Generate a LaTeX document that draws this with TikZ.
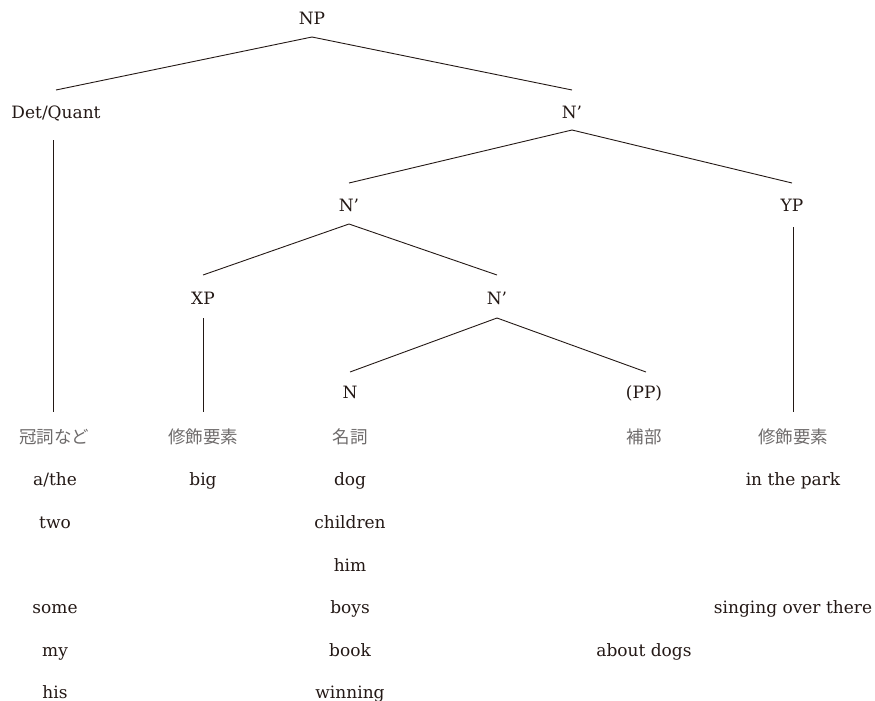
\documentclass[tikz,border=0pt]{standalone}
\usepackage{fontspec}
\setmainfont{DejaVu Serif}
\newfontfamily\jp{Noto Sans CJK JP}
\definecolor{ink}{HTML}{231815}
\definecolor{jpgray}{HTML}{6E6B6B}
\begin{document}
\begin{tikzpicture}[x=1pt,y=-1pt,
  lab/.style={anchor=base,inner sep=0pt,text=ink,font=\fontsize{17}{20}\selectfont},
  jlab/.style={anchor=base,inner sep=0pt,text=jpgray,font=\jp\fontsize{17.5}{20}\selectfont},
  edge/.style={draw=ink,line width=0.9pt}]
\useasboundingbox (0,0) rectangle (875,701);
% tree labels
\node[lab] (np) at (312,25) {NP};
\node[lab] (det) at (56,118) {Det/Quant};
\node[lab] (n1) at (572,118) {N'};
\node[lab] (n2) at (349,211) {N'};
\node[lab] (yp) at (792,211) {YP};
\node[lab] (xp) at (203,304) {XP};
\node[lab] (n3) at (497,304) {N'};
\node[lab] (n) at (350,398) {N};
\node[lab] (pp) at (644,398) {(PP)};
% Japanese row
\node[jlab] (j1) at (54,443) {冠詞など};
\node[jlab] (j2) at (203,443) {修飾要素};
\node[jlab] (j3) at (350,443) {名詞};
\node[jlab] (j4) at (644,443) {補部};
\node[jlab] (j5) at (793,443) {修飾要素};
% examples
\node[lab] (e1) at (55,485) {a/the};
\node[lab] (e2) at (55,528) {two};
\node[lab] (e3) at (55,613) {some};
\node[lab] (e4) at (55,656) {my};
\node[lab] (e5) at (55,698) {his};
\node[lab] (x1) at (203,485) {big};
\node[lab] (m1) at (350,485) {dog};
\node[lab] (m2) at (350,528) {children};
\node[lab] (m3) at (350,571) {him};
\node[lab] (m4) at (350,613) {boys};
\node[lab] (m5) at (350,656) {book};
\node[lab] (m6) at (350,698) {winning};
\node[lab] (p1) at (644,656) {about dogs};
\node[lab] (y1) at (793,485) {in the park};
\node[lab] (y2) at (793,613) {singing over there};
% branches
\draw[edge] ([yshift=-12pt]np.base) -- ([yshift=28pt]det.base);
\draw[edge] ([yshift=-12pt]np.base) -- ([yshift=28pt]n1.base);
\draw[edge] ([yshift=-12pt]n1.base) -- ([yshift=28pt]n2.base);
\draw[edge] ([yshift=-12pt]n1.base) -- ([yshift=28pt]yp.base);
\draw[edge] ([yshift=-13pt]n2.base) -- ([yshift=29pt]xp.base);
\draw[edge] ([yshift=-13pt]n2.base) -- ([yshift=29pt]n3.base);
\draw[edge] ([yshift=-14pt]n3.base) -- ([yshift=26pt]n.base);
\draw[edge] ([yshift=-14pt]n3.base) -- ([yshift=26pt,xshift=2pt]pp.base);
% vertical lines
\draw[edge] ([yshift=-22pt,xshift=-3pt]det.base) -- ([yshift=31pt,xshift=-1pt]j1.base);
\draw[edge] ([yshift=-14pt]xp.base) -- ([yshift=31pt]j2.base);
\draw[edge] ([yshift=-16pt,xshift=1pt]yp.base) -- ([yshift=31pt]j5.base);
\end{tikzpicture}
\end{document}
